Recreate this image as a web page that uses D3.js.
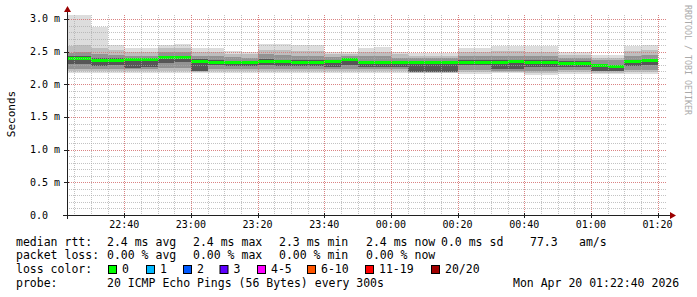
<!DOCTYPE html>
<html>
<head>
<meta charset="utf-8">
<script src="https://cdn.jsdelivr.net/npm/d3@7"></script>
<style>
body { margin: 0; background: #fff; }
text { font-family: "DejaVu Sans Mono", monospace; white-space: pre; }
</style>
</head>
<body>
<svg id="chart" width="697" height="297"></svg>
<script>
// 5 minute slots, first one ends at 22:25 (Apr 19 2026)
var firstSlotEnd = new Date(2026, 3, 19, 22, 25, 0);
var slotMinutes = 5;

// median rtt per slot (ms)
var medians = [2.39, 2.40, 2.37, 2.37, 2.38, 2.38, 2.415, 2.415, 2.345, 2.34, 2.33, 2.33,
               2.355, 2.345, 2.335, 2.335, 2.355, 2.375, 2.34, 2.335, 2.335, 2.335, 2.335, 2.335,
               2.335, 2.335, 2.34, 2.345, 2.335, 2.335, 2.325, 2.325, 2.285, 2.275, 2.35, 2.36];

// smoke: slowest / fastest ping per slot (ms)
var maxPing = [3.06, 3.06, 2.87, 2.60, 2.55, 2.55, 2.60, 2.61, 2.56, 2.55, 2.51, 2.50,
               2.61, 2.61, 2.60, 2.60, 2.50, 2.49, 2.56, 2.57, 2.50, 2.475, 2.48, 2.475,
               2.56, 2.56, 2.59, 2.59, 2.59, 2.59, 2.49, 2.49, 2.45, 2.45, 2.58, 2.60];
var minPing = [2.17, 2.17, 2.17, 2.17, 2.18, 2.18, 2.17, 2.17, 2.17, 2.18, 2.17, 2.17,
               2.17, 2.17, 2.17, 2.17, 2.18, 2.18, 2.17, 2.17, 2.17, 2.17, 2.17, 2.17,
               2.16, 2.16, 2.17, 2.17, 2.15, 2.15, 2.16, 2.16, 2.16, 2.16, 2.16, 2.16];
// inner smoke bands
var band2Hi = [2.58, 2.60, 2.55, 2.52, 2.50, 2.50, 2.55, 2.55, 2.50, 2.49, 2.47, 2.46,
               2.53, 2.52, 2.51, 2.51, 2.46, 2.46, 2.49, 2.50, 2.46, 2.44, 2.44, 2.44,
               2.50, 2.50, 2.51, 2.51, 2.50, 2.50, 2.45, 2.45, 2.41, 2.41, 2.51, 2.52];
var band2Lo = [2.20, 2.20, 2.20, 2.20, 2.21, 2.21, 2.20, 2.20, 2.19, 2.21, 2.20, 2.20,
               2.20, 2.20, 2.20, 2.20, 2.20, 2.21, 2.20, 2.20, 2.20, 2.18, 2.18, 2.18,
               2.19, 2.19, 2.19, 2.19, 2.18, 2.18, 2.19, 2.19, 2.18, 2.18, 2.19, 2.19];
var band3Hi = [2.48, 2.50, 2.46, 2.45, 2.44, 2.44, 2.49, 2.49, 2.44, 2.43, 2.42, 2.41,
               2.46, 2.45, 2.44, 2.44, 2.42, 2.43, 2.43, 2.43, 2.41, 2.40, 2.40, 2.40,
               2.43, 2.43, 2.44, 2.44, 2.44, 2.44, 2.40, 2.40, 2.37, 2.37, 2.44, 2.45];
var band3Lo = [2.24, 2.24, 2.24, 2.24, 2.23, 2.23, 2.25, 2.25, 2.21, 2.24, 2.24, 2.24,
               2.24, 2.24, 2.23, 2.23, 2.23, 2.24, 2.23, 2.23, 2.23, 2.19, 2.19, 2.19,
               2.22, 2.22, 2.21, 2.21, 2.21, 2.21, 2.22, 2.22, 2.20, 2.20, 2.22, 2.22];
var coreHi = [2.43, 2.44, 2.40, 2.40, 2.40, 2.40, 2.44, 2.44, 2.39, 2.37, 2.36, 2.36,
              2.39, 2.38, 2.37, 2.37, 2.38, 2.40, 2.36, 2.36, 2.36, 2.36, 2.36, 2.36,
              2.37, 2.37, 2.37, 2.37, 2.37, 2.37, 2.35, 2.35, 2.31, 2.30, 2.37, 2.39];
var coreLo = [2.31, 2.31, 2.28, 2.29, 2.25, 2.26, 2.33, 2.34, 2.21, 2.29, 2.28, 2.28,
              2.30, 2.28, 2.28, 2.28, 2.27, 2.30, 2.27, 2.27, 2.27, 2.19, 2.19, 2.19,
              2.29, 2.29, 2.24, 2.24, 2.26, 2.26, 2.26, 2.26, 2.21, 2.21, 2.28, 2.29];

var yTicks = [0, 0.5, 1.0, 1.5, 2.0, 2.5, 3.0];
var yTickLabels = ["0.0", "0.5 m", "1.0 m", "1.5 m", "2.0 m", "2.5 m", "3.0 m"];
var xTickLabels = ["22:40", "23:00", "23:20", "23:40", "00:00", "00:20", "00:40", "01:00", "01:20"];

var lossLabels = ["0", "1", "2", "3", "4-5", "6-10", "11-19", "20/20"];
var lossColors = ["#00ff00", "#00b8ff", "#0059ff", "#5e00ff", "#ff00ff", "#ff5500", "#ff0000", "#a10000"];

var rttStats = ["2.4 ms avg", "2.4 ms max", "2.3 ms min", "2.4 ms now", "0.0 ms sd", "77.3", "am/s"];
var lossStats = ["0.00 % avg", "0.00 % max", "0.00 % min", "0.00 % now"];
var probeText = "20 ICMP Echo Pings (56 Bytes) every 300s";
var stampText = "Mon Apr 20 01:22:40 2026";

drawChart();

function drawChart() {
    var svg = d3.select('#chart');
    var pLeft = 67, pRight = 667, pTop = 15, pBottom = 215;

    var x = d3.scaleTime()
        .domain([new Date(2026, 3, 19, 22, 22, 50), new Date(2026, 3, 20, 1, 22, 50)])
        .range([pLeft, pRight]);
    var y = d3.scaleLinear().domain([0, 3.0612]).range([pBottom, pTop]);

    // slot table
    var slots = medians.map(function (m, i) {
        var end = new Date(firstSlotEnd.getTime() + i * slotMinutes * 60000);
        return {
            start: new Date(end.getTime() - slotMinutes * 60000), end: end, med: m,
            bands: [[minPing[i], maxPing[i]], [band2Lo[i], band2Hi[i]], [band3Lo[i], band3Hi[i]], [coreLo[i], coreHi[i]]]
        };
    });

    svg.append('clipPath').attr('id', 'plot')
        .append('rect').attr('x', pLeft).attr('y', pTop).attr('width', pRight - pLeft).attr('height', pBottom - pTop);

    var smoke = svg.append('g').attr('clip-path', 'url(#plot)').attr('shape-rendering', 'crispEdges');
    var bandColors = ['#dddddd', '#bebebe', '#939393', '#565656'];
    bandColors.forEach(function (col, b) {
        smoke.selectAll('rect.b' + b)
            .data(slots)
            .enter()
            .append('rect')
            .attr('class', 'b' + b)
            .attr('fill', col)
            .attr('x', function (d) { return x(d.start); })
            .attr('width', function (d) { return x(d.end) - x(d.start); })
            .attr('y', function (d) { return y(d.bands[b][1]); })
            .attr('height', function (d) { return y(d.bands[b][0]) - y(d.bands[b][1]); });
    });

    // median line, drawn as a thin band like smokeping does
    var medWidth = 0.046;
    smoke.selectAll('rect.med')
        .data(slots)
        .enter()
        .append('rect')
        .attr('class', 'med')
        .attr('fill', lossColors[0])
        .attr('x', function (d) { return x(d.start); })
        .attr('width', function (d) { return x(d.end) - x(d.start); })
        .attr('y', function (d) { return y(d.med + medWidth / 2); })
        .attr('height', function (d) { return y(d.med - medWidth / 2) - y(d.med + medWidth / 2); });

    // grid
    var grid = svg.append('g').attr('shape-rendering', 'crispEdges');
    var minorTimes = x.ticks(d3.timeMinute.every(5));
    var majorTimes = xTickLabels.map(function (s) {
        var hm = s.split(':');
        var day = (+hm[0] > 12) ? 19 : 20;
        return new Date(2026, 3, day, +hm[0], +hm[1]);
    });
    var minorVals = d3.range(1, 31).map(function (i) { return i / 10; });
    var minorCol = 'rgba(170,170,170,0.7)', majorCol = 'rgba(225,110,110,0.75)';

    grid.selectAll('line.vmin').data(minorTimes).enter().append('line')
        .attr('class', 'vmin')
        .attr('x1', function (d) { return Math.round(x(d)) + 0.5; })
        .attr('x2', function (d) { return Math.round(x(d)) + 0.5; })
        .attr('y1', pTop).attr('y2', pBottom)
        .attr('stroke', minorCol).attr('stroke-dasharray', '1,1');
    grid.selectAll('line.hmin').data(minorVals).enter().append('line')
        .attr('class', 'hmin')
        .attr('x1', pLeft).attr('x2', pRight)
        .attr('y1', function (d) { return Math.round(y(d)) + 0.5; })
        .attr('y2', function (d) { return Math.round(y(d)) + 0.5; })
        .attr('stroke', minorCol).attr('stroke-dasharray', '1,1');
    grid.selectAll('line.vmaj').data(majorTimes).enter().append('line')
        .attr('class', 'vmaj')
        .attr('x1', function (d) { return Math.round(x(d)) + 0.5; })
        .attr('x2', function (d) { return Math.round(x(d)) + 0.5; })
        .attr('y1', pTop).attr('y2', pBottom)
        .attr('stroke', majorCol).attr('stroke-dasharray', '1,1');
    grid.selectAll('line.hmaj').data(yTicks.slice(1)).enter().append('line')
        .attr('class', 'hmaj')
        .attr('x1', pLeft).attr('x2', pRight)
        .attr('y1', function (d) { return Math.round(y(d)) + 0.5; })
        .attr('y2', function (d) { return Math.round(y(d)) + 0.5; })
        .attr('stroke', majorCol).attr('stroke-dasharray', '1,1');

    // axes
    var axis = svg.append('g').attr('shape-rendering', 'crispEdges');
    axis.append('line').attr('x1', pLeft - 4).attr('x2', pRight + 4).attr('y1', pBottom + 0.5).attr('y2', pBottom + 0.5)
        .attr('stroke', '#202020');
    axis.append('line').attr('x1', pLeft + 0.5).attr('x2', pLeft + 0.5).attr('y1', pBottom + 4).attr('y2', pTop - 4)
        .attr('stroke', '#202020');
    axis.selectAll('line.xt').data(majorTimes).enter().append('line')
        .attr('class', 'xt')
        .attr('x1', function (d) { return Math.round(x(d)) + 0.5; })
        .attr('x2', function (d) { return Math.round(x(d)) + 0.5; })
        .attr('y1', pBottom - 2).attr('y2', pBottom + 3).attr('stroke', '#202020');
    axis.selectAll('line.yt').data(yTicks).enter().append('line')
        .attr('class', 'yt')
        .attr('x1', pLeft - 3).attr('x2', pLeft + 2)
        .attr('y1', function (d) { return Math.round(y(d)) + 0.5; })
        .attr('y2', function (d) { return Math.round(y(d)) + 0.5; })
        .attr('stroke', '#202020');
    svg.append('path').attr('d', 'M' + (pRight + 3) + ',' + (pBottom - 3) + 'L' + (pRight + 9) + ',' + (pBottom + 0.5) + 'L' + (pRight + 3) + ',' + (pBottom + 4) + 'Z')
        .attr('fill', '#9b0000');
    svg.append('path').attr('d', 'M' + (pLeft - 3) + ',' + (pTop - 3) + 'L' + (pLeft + 0.5) + ',' + (pTop - 9) + 'L' + (pLeft + 4) + ',' + (pTop - 3) + 'Z')
        .attr('fill', '#9b0000');

    // tick labels
    svg.selectAll('text.yl').data(yTicks).enter().append('text')
        .attr('class', 'yl')
        .attr('x', 30).attr('y', function (d) { return y(d) + 3.5; })
        .attr('font-size', 10).attr('fill', '#000')
        .text(function (d, i) { return yTickLabels[i]; });
    svg.selectAll('text.xl').data(majorTimes).enter().append('text')
        .attr('class', 'xl')
        .attr('x', function (d) { return x(d); }).attr('y', 228)
        .attr('text-anchor', 'middle').attr('font-size', 10).attr('fill', '#000')
        .text(function (d, i) { return xTickLabels[i]; });

    svg.append('text').attr('transform', 'translate(15,114) rotate(-90)')
        .attr('text-anchor', 'middle').attr('font-size', 11).text('Seconds');
    svg.append('text').attr('transform', 'translate(685,5) rotate(90)')
        .attr('font-size', 8.3).attr('fill', '#aaaaaa').text('RRDTOOL / TOBI OETIKER');

    // legend
    var rowY = [245.5, 259, 272.7, 286.5];
    var legend = svg.append('g').attr('font-size', 11.5).attr('fill', '#000');
    legend.append('text').attr('x', 16).attr('y', rowY[0]).text('median rtt:');
    var statX = [107, 193, 279, 366, 441, 530, 579];
    rttStats.forEach(function (s, i) {
        legend.append('text').attr('x', statX[i]).attr('y', rowY[0]).text(s);
    });
    legend.append('text').attr('x', 16).attr('y', rowY[1]).text('packet loss:');
    lossStats.forEach(function (s, i) {
        legend.append('text').attr('x', statX[i]).attr('y', rowY[1]).text(s);
    });
    legend.append('text').attr('x', 16).attr('y', rowY[2]).text('loss color:');
    var boxX = [108, 146, 183, 219.5, 257, 307, 365, 431];
    lossLabels.forEach(function (s, i) {
        legend.append('rect').attr('x', boxX[i] + 0.5).attr('y', 265.5).attr('width', 8).attr('height', 8)
            .attr('fill', lossColors[i]).attr('stroke', '#000').attr('stroke-width', 1);
        legend.append('text').attr('x', boxX[i] + 14).attr('y', rowY[2]).text(s);
    });
    legend.append('text').attr('x', 16).attr('y', rowY[3]).text('probe:');
    legend.append('text').attr('x', 107).attr('y', rowY[3]).text(probeText);
    legend.append('text').attr('x', 513).attr('y', rowY[3]).text(stampText);
}
</script>
</body>
</html>
